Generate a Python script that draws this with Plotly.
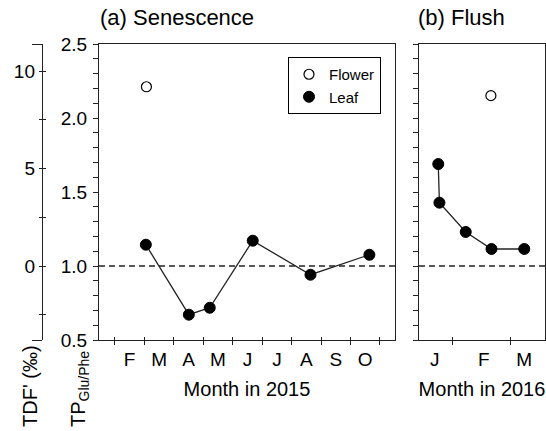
import plotly.graph_objects as go

FONT = "Liberation Sans, Arial, sans-serif"
INK = "#222222"

# ---------------- data ----------------
# x in months: 0 = 1 Jan of the year, 1 = 1 Feb, ...
leaf15_x = [2.05, 3.51, 4.22, 5.68, 7.64, 9.64]
leaf15_tp = [1.144, 0.671, 0.718, 1.171, 0.941, 1.076]
flower15_x = [2.07]
flower15_tp = [2.211]

leaf16_x = [0.76, 0.78, 1.23, 1.67, 2.23]
leaf16_tp = [1.689, 1.428, 1.230, 1.115, 1.115]
flower16_x = [1.66]
flower16_tp = [2.151]

month15_labels = ["F", "M", "A", "M", "J", "J", "A", "S", "O"]
month15_pos = [1.5, 2.5, 3.5, 4.5, 5.5, 6.5, 7.5, 8.5, 9.5]
month15_bounds = [1, 2, 3, 4, 5, 6, 7, 8, 9, 10]
month16_labels = ["J", "F", "M"]
month16_pos = [0.70, 1.54, 2.23]
month16_bounds = [1, 2]

tp_ticks = [0.5, 1.0, 1.5, 2.0, 2.5]
tp_labels = ["0.5", "1.0", "1.5", "2.0", "2.5"]
tp_minor = [0.6, 0.7, 0.8, 0.9, 1.1, 1.2, 1.3, 1.4, 1.6, 1.7, 1.8, 1.9,
            2.1, 2.2, 2.3, 2.4]
tdf_label_ticks = [0, 5, 10]
tdf_labels = ["0", "5", "10"]
tdf_minor_ticks = [-2.5, 2.5, 7.5]
tdf_all_ticks = [-2.5, 0, 2.5, 5, 7.5, 10]

TP_RANGE = [0.5, 2.5]
TDF_PER_TP = 7.6
REF_TP = 1.0
TDF_RANGE = [(TP_RANGE[0] - REF_TP) * TDF_PER_TP, (TP_RANGE[1] - REF_TP) * TDF_PER_TP]
X15_RANGE = [0.46, 10.51]
X16_RANGE = [0.431, 2.585]

# ---------------- layout geometry ----------------
W, H = 546, 431
ML, MR, MT, MB = 30, 1, 44, 91
PW, PH = W - ML - MR, H - MT - MB


def px_x(p):
    return (p - ML) / PW


def px_y(p):
    return (H - MB - p) / PH


DOM_A = [px_x(99), px_x(395)]
DOM_B = [px_x(419), px_x(545)]

fig = go.Figure()

line_style = dict(color=INK, width=1.3)
leaf_marker = dict(symbol="circle", size=11, color="black", line=dict(color="black", width=1))
flower_marker = dict(symbol="circle", size=10, color="white", line=dict(color="black", width=1.2))

# connecting lines
fig.add_trace(go.Scatter(x=leaf15_x, y=leaf15_tp, mode="lines", line=line_style,
                         showlegend=False, hoverinfo="skip", xaxis="x", yaxis="y"))
fig.add_trace(go.Scatter(x=leaf16_x, y=leaf16_tp, mode="lines", line=line_style,
                         showlegend=False, hoverinfo="skip", xaxis="x2", yaxis="y2"))
# markers
fig.add_trace(go.Scatter(x=flower15_x, y=flower15_tp, mode="markers", marker=flower_marker,
                         name="Flower", xaxis="x", yaxis="y"))
fig.add_trace(go.Scatter(x=leaf15_x, y=leaf15_tp, mode="markers", marker=leaf_marker,
                         name="Leaf", xaxis="x", yaxis="y"))
fig.add_trace(go.Scatter(x=flower16_x, y=flower16_tp, mode="markers", marker=flower_marker,
                         name="Flower", showlegend=False, xaxis="x2", yaxis="y2"))
fig.add_trace(go.Scatter(x=leaf16_x, y=leaf16_tp, mode="markers", marker=leaf_marker,
                         name="Leaf", showlegend=False, xaxis="x2", yaxis="y2"))

# empty traces so the helper axes are drawn
for xa, ya in [("x3", "y"), ("x4", "y2"), ("x", "y3"), ("x", "y4")]:
    fig.add_trace(go.Scatter(x=[], y=[], xaxis=xa, yaxis=ya, showlegend=False, hoverinfo="skip"))

tickfont = dict(family=FONT, size=19, color="black")
base = dict(showgrid=False, zeroline=False, linecolor=INK, linewidth=1.3,
            tickcolor=INK, tickwidth=1.2, tickfont=tickfont)

xaxis_common = dict(base, showline=True, mirror=True, tickmode="array", ticks="",
                    ticklabelstandoff=2,
                    title=dict(font=dict(family=FONT, size=20, color="black"), standoff=13))

fig.update_layout(
    width=W, height=H,
    margin=dict(l=ML, r=MR, t=MT, b=MB, pad=0),
    paper_bgcolor="white", plot_bgcolor="white",
    font=dict(family=FONT, color="black"),
    xaxis=dict(xaxis_common, domain=DOM_A, range=X15_RANGE, anchor="y",
               tickvals=month15_pos, ticktext=month15_labels,
               minor=dict(tickmode="array", tickvals=month15_bounds, ticks="outside",
                          ticklen=4, tickcolor=INK, tickwidth=1.2),
               title_text="Month in 2015"),
    xaxis2=dict(xaxis_common, domain=DOM_B, range=X16_RANGE, anchor="y2",
                tickvals=month16_pos, ticktext=month16_labels,
                minor=dict(tickmode="array", tickvals=month16_bounds, ticks="outside",
                           ticklen=4, tickcolor=INK, tickwidth=1.2),
                title_text="Month in 2016"),
    xaxis3=dict(base, overlaying="x", anchor="y", range=X15_RANGE, showline=False,
                tickmode="array", tickvals=month15_bounds, ticks="inside", ticklen=3,
                showticklabels=False),
    xaxis4=dict(base, overlaying="x2", anchor="y2", range=X16_RANGE, showline=False,
                tickmode="array", tickvals=month16_bounds, ticks="inside", ticklen=3,
                showticklabels=False),
    yaxis=dict(base, domain=[0, 1], anchor="x", range=TP_RANGE, showline=True, mirror=True,
               tickmode="array", tickvals=tp_ticks, ticktext=tp_labels,
               ticks="outside", ticklen=5, ticklabelstandoff=2,
               minor=dict(tickmode="array", tickvals=tp_minor, ticks="outside",
                          ticklen=5, tickcolor=INK, tickwidth=1.2)),
    yaxis2=dict(base, domain=[0, 1], anchor="x2", range=TP_RANGE, showline=True, mirror=True,
                tickmode="array", tickvals=tp_ticks, showticklabels=False,
                ticks="outside", ticklen=5,
                minor=dict(tickmode="array", tickvals=tp_minor, ticks="outside",
                           ticklen=5, tickcolor=INK, tickwidth=1.2)),
    yaxis3=dict(base, overlaying="y", anchor="free", position=px_x(42), side="left",
                range=TDF_RANGE, showline=True, tickmode="array",
                tickvals=TDF_RANGE, showticklabels=False, ticks="outside", ticklen=10,
                minor=dict(tickmode="array", tickvals=tdf_all_ticks, ticks="outside",
                           ticklen=3, tickcolor=INK, tickwidth=1.2)),
    yaxis4=dict(base, overlaying="y", anchor="free", position=px_x(42), side="left",
                range=TDF_RANGE, showline=False, tickmode="array",
                tickvals=tdf_label_ticks, ticktext=tdf_labels, ticks="inside", ticklen=3,
                ticklabelstandoff=7,
                minor=dict(tickmode="array", tickvals=tdf_minor_ticks, ticks="inside",
                           ticklen=3, tickcolor=INK, tickwidth=1.2)),
    legend=dict(x=px_x(288), y=px_y(57), xanchor="left", yanchor="top",
                bordercolor="black", borderwidth=1, bgcolor="white",
                font=dict(family=FONT, size=15, color="black"),
                tracegroupgap=0),
    shapes=[
        dict(type="line", xref="x domain", x0=0, x1=1, yref="y", y0=REF_TP, y1=REF_TP,
             line=dict(color=INK, width=1.3, dash="6px,4px"), layer="below"),
        dict(type="line", xref="x2 domain", x0=0, x1=1, yref="y2", y0=REF_TP, y1=REF_TP,
             line=dict(color=INK, width=1.3, dash="6px,4px"), layer="below"),
    ],
    annotations=[
        dict(text="(a) Senescence", xref="paper", yref="paper", x=px_x(98), y=px_y(18),
             xanchor="left", yanchor="middle", showarrow=False,
             font=dict(family=FONT, size=22, color="black")),
        dict(text="(b) Flush", xref="paper", yref="paper", x=px_x(416), y=px_y(18),
             xanchor="left", yanchor="middle", showarrow=False,
             font=dict(family=FONT, size=22, color="black")),
        dict(text="TDF' (‰)", xref="paper", yref="paper", x=px_x(30), y=px_y(429),
             xanchor="center", yanchor="bottom", textangle=-90, showarrow=False,
             font=dict(family=FONT, size=20, color="black")),
        dict(text="TP<sub>Glu/Phe</sub>", xref="paper", yref="paper", x=px_x(79), y=px_y(429),
             xanchor="center", yanchor="bottom", textangle=-90, showarrow=False,
             font=dict(family=FONT, size=20, color="black")),
    ],
)

fig.write_html(
    "out.html",
    config={"displayModeBar": False},
    post_script="document.body.style.margin='0';document.body.style.padding='0';"
                "document.documentElement.style.overflow='hidden';",
)
